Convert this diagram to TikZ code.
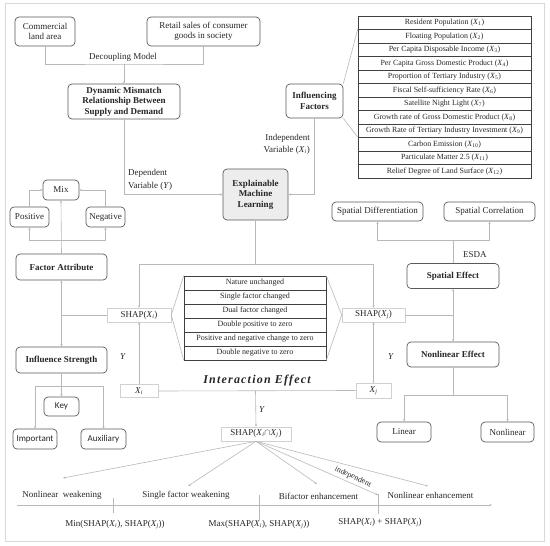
\documentclass[tikz,border=0pt]{standalone}
\usepackage{fontspec}
\setmainfont{Liberation Serif}
\newfontfamily\sansf{Carlito}
\usetikzlibrary{arrows.meta}
\newcommand\Xv[1]{\textit{X}\textsubscript{#1}}
\begin{document}
\begin{tikzpicture}[x=1pt,y=-1pt,
  font=\fontsize{9}{10.5}\selectfont,
  wh/.style 2 args={minimum width=#1pt, minimum height=#2pt},
  box/.style={draw=black!65, rounded corners=4pt, line width=0.7pt, align=center, inner sep=1pt, text=black!85},
  bbox/.style={box, font=\fontsize{9}{10.5}\selectfont\bfseries},
  sbox/.style={draw=black!18, line width=0.6pt, inner sep=1pt, align=center, text=black!85},
  trow/.style={draw=black!75, line width=0.6pt, minimum width=173pt, minimum height=13.5pt, inner sep=0pt, font=\fontsize{7.9}{8.5}\selectfont, text=black!85},
  mrow/.style={draw=black!75, line width=0.6pt, minimum width=142pt, minimum height=14pt, inner sep=0pt, font=\fontsize{8}{9}\selectfont, text=black!85},
  conn/.style={draw=black!28, line width=0.6pt},
  arr/.style={conn, -{Stealth[length=2.5pt,width=2.2pt]}},
  lbl/.style={inner sep=0pt, text=black!85, align=left}
]
\useasboundingbox (0,0) rectangle (550,546);
\draw[draw=black!15, line width=0.6pt] (5,3) rectangle (544,541);

% top boxes
\node[box, wh={60}{29}] (comm) at (45,31.5) {Commercial\\land area};
\node[box, wh={113}{29}] (retail) at (203.5,31.5) {Retail sales of consumer\\goods in society};
\node[bbox, wh={112}{35}] (dyn) at (124,101.5) {Dynamic Mismatch\\Relationship Between\\Supply and Demand};
\node[bbox, wh={57}{34}] (infl) at (314.5,101) {Influencing\\Factors};
\node[bbox, wh={65}{51}, fill=black!7] (xml) at (255.5,194.5) {Explainable\\Machine\\Learning};

% factor table
\foreach \t [count=\i] in {
  {Resident Population (\Xv{1})},
  {Floating Population (\Xv{2})},
  {Per Capita Disposable Income (\Xv{3})},
  {Per Capita Gross Domestic Product (\Xv{4})},
  {Proportion of Tertiary Industry (\Xv{5})},
  {Fiscal Self-sufficiency Rate (\Xv{6})},
  {Satellite Night Light (\Xv{7})},
  {Growth rate of Gross Domestic Product (\Xv{8})},
  {Growth Rate of Tertiary Industry Investment (\Xv{9})},
  {Carbon Emission (\Xv{10})},
  {Particulate Matter 2.5 (\Xv{11})},
  {Relief Degree of Land Surface (\Xv{12})}}
  \node[trow] (f\i) at (444.5,{16+13.5*\i-6.75}) {\t};

% left column
\node[box, wh={36}{20}] (mix) at (61,190) {Mix};
\node[box, wh={39}{20}] (pos) at (29.5,217) {Positive};
\node[box, wh={39}{20}] (neg) at (105.5,217) {Negative};
\node[bbox, wh={91}{26}] (fattr) at (61.5,267) {Factor Attribute};
\node[bbox, wh={91}{26}] (istr) at (61.5,360) {Influence Strength};
\node[box, wh={35}{19}, font=\sansf\fontsize{9}{10}\selectfont] (key) at (61.5,406.5) {Key};
\node[box, wh={44}{20}, font=\sansf\fontsize{9}{10}\selectfont] (imp) at (35,439) {Important};
\node[box, wh={45}{20}, font=\sansf\fontsize{9}{10}\selectfont] (aux) at (103.5,439) {Auxiliary};

% right column
\node[box, wh={91}{19}] (spdiff) at (377.5,211.5) {Spatial Differentiation};
\node[box, wh={91}{19}] (spcorr) at (489.5,211.5) {Spatial Correlation};
\node[bbox, wh={92}{25}] (speff) at (453,276) {Spatial Effect};
\node[bbox, wh={92}{25}] (nleff) at (453,354.5) {Nonlinear Effect};
\node[box, wh={54}{20}] (linear) at (404,432) {Linear};
\node[box, wh={53}{20}] (nonlin) at (507.5,432) {Nonlinear};

% SHAP boxes
\node[sbox, wh={64}{14}] (shapi) at (139,315) {SHAP(\Xv{\textit{i}})};
\node[sbox, wh={63}{14}] (shapj) at (373.5,315) {SHAP(\Xv{\textit{j}})};
\node[sbox, wh={38}{13}] (xi) at (139,391) {\Xv{\textit{i}}};
\node[sbox, wh={35}{15}] (xj) at (373.5,390.5) {\Xv{\textit{j}}};
\node[sbox, wh={70}{14}] (shapij) at (256,434) {SHAP(\Xv{\textit{i}}$\cap$\Xv{\textit{j}})};

% middle table
\foreach \t [count=\i] in {
  {Nature unchanged},
  {Single factor changed},
  {Dual factor changed},
  {Double positive to zero},
  {Positive and negative change to zero},
  {Double negative to zero}}
  \node[mrow] (m\i) at (255,{276+14*\i-7}) {\t};

\node[lbl, font=\fontsize{12}{13}\selectfont\bfseries\itshape\addfontfeatures{LetterSpace=10}] (ietitle) at (257,381) {Interaction Effect};

% connectors: top
\coordinate (dec) at (124,64);
\draw[conn] (comm.south) |- (dec) -| (retail.south);
\draw[arr] (dec) -- (dyn.north);
\node[lbl] (declbl) at (123,57) {Decoupling Model};
\draw[arr] (dyn.south) |- (xml.west);
\draw[arr] (infl.south) |- (xml.east);
\node[lbl, anchor=west] (deplbl) at (128,180) {Dependent\\[2pt]Variable (\textit{Y})};
\node[lbl, anchor=east, align=right] (indlbl) at (310,144.5) {Independent\\[2pt]Variable (\Xv{\textit{i}})};
\draw[conn] (infl.north east) -- (f2.north west);
\draw[conn] (infl.south east) -- (f10.north west);

% left connectors
\coordinate (sl) at (61.5,315);
\draw[conn] (shapi.west) -- (sl);
\draw[arr] (sl) -- (fattr.south);
\draw[arr] (sl) -- (istr.north);
\draw[arr] (fattr.north) -- (mix.south);
\coordinate (fb) at (61.5,240);
\draw[arr] (fb) -| (pos.south);
\draw[arr] (fb) -| (neg.south);
\draw[arr] (pos.north) |- (mix.west);
\draw[arr] (neg.north) |- (mix.east);
\draw[arr] (istr.south) -- (key.north);
\coordinate (kb) at (61.5,386);
\draw[arr] (kb) -| (imp.north);
\draw[arr] (kb) -| (aux.north);

% center connectors
\coordinate (xs) at (255.5,264);
\draw[conn] (xml.south) -- (xs);
\draw[arr] (xs) -| (shapi.north);
\draw[arr] (xs) -| (shapj.north);
\draw[conn] (shapi.east) -- (m1.north west);
\draw[conn] (shapi.east) -- (m6.south west);
\draw[conn] (shapj.west) -- (m1.north east);
\draw[conn] (shapj.west) -- (m6.south east);
\draw[arr] (xi.north) -- (shapi.south);
\draw[arr] (xj.north) -- (shapj.south);
\node[lbl] (yi) at (123,357) {\textit{Y}};
\node[lbl] (yj) at (391,357) {\textit{Y}};
\coordinate (xm) at (255.5,391);
\draw[conn] (xi.east) -- (xj.west);
\draw[arr] (xm) -- (shapij.north);
\node[lbl] (yij) at (262,410) {\textit{Y}};

% right connectors
\coordinate (sr) at (453,315);
\draw[conn] (shapj.east) -- (sr);
\draw[arr] (sr) -- (speff.south);
\draw[arr] (sr) -- (nleff.north);
\coordinate (sb) at (453,240);
\draw[conn] (speff.north) -- (sb);
\draw[arr] (sb) -| (spdiff.south);
\draw[arr] (sb) -| (spcorr.south);
\node[lbl, anchor=west] (esda) at (463,254.5) {ESDA};
\coordinate (nb) at (453,395);
\draw[conn] (nleff.south) -- (nb);
\draw[arr] (nb) -| (linear.north);
\draw[arr] (nb) -| (nonlin.north);

% bottom fan
\coordinate (e1) at (63,478);
\coordinate (e2) at (188,486);
\coordinate (e3) at (317,484);
\coordinate (e4) at (428,486);
\coordinate (e5) at (378,495);
\foreach \e in {e1,e2,e3,e4,e5} \draw[arr] (shapij.south) -- (\e);
\node[lbl, rotate=-25, font=\fontsize{8}{9}\selectfont] (indep) at (353,477) {independent};
\node[lbl] (t1) at (62,495.5) {Nonlinear\ \ weakening};
\node[lbl] (t2) at (186,495.5) {Single factor weakening};
\node[lbl] (t3) at (318.5,496) {Bifactor enhancement};
\node[lbl] (t4) at (430.5,495.5) {Nonlinear enhancement};

% axis
\coordinate (a0) at (17,505);
\coordinate (a1) at (492,505);
\draw[arr] (a0) -- (a1);
\coordinate (k1a) at (113,498); \coordinate (k1b) at (113,513);
\coordinate (k2a) at (259,495); \coordinate (k2b) at (259,520);
\coordinate (k3a) at (378,494); \coordinate (k3b) at (378,514);
\draw[conn] (k1a) -- (k1b);
\draw[conn] (k2a) -- (k2b);
\draw[conn] (k3a) -- (k3b);
\node[lbl] (v1) at (115,525) {Min(SHAP(\Xv{\textit{i}}), SHAP(\Xv{\textit{j}}))};
\node[lbl] (v2) at (259,525) {Max(SHAP(\Xv{\textit{i}}), SHAP(\Xv{\textit{j}}))};
\node[lbl] (v3) at (380,523) {SHAP(\Xv{\textit{i}}) + SHAP(\Xv{\textit{j}})};
\end{tikzpicture}
\end{document}
